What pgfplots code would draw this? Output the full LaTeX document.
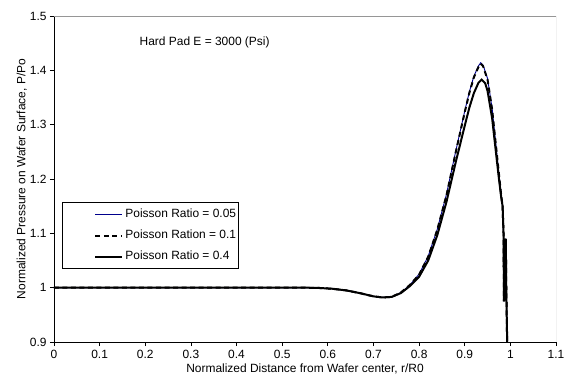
\documentclass[border=0pt]{standalone}
\usepackage{fontspec}
\setmainfont{Liberation Sans}
\usepackage{pgfplots}
\pgfplotsset{compat=1.18}
\definecolor{dblue}{RGB}{0,0,140}
\definecolor{frame}{RGB}{150,150,150}

\pgfplotstableread{
x y
0 1.0
0.1 1.0
0.2 1.0
0.3 1.0
0.4 1.0
0.5 1.0
0.55 1.0
0.58 0.9995
0.61 0.998
0.64 0.995
0.67 0.990
0.70 0.984
0.72 0.982
0.74 0.983
0.76 0.991
0.78 1.005
0.80 1.025
0.82 1.058
0.84 1.108
0.86 1.172
0.88 1.250
0.90 1.325
0.91 1.360
0.92 1.389
0.93 1.408
0.935 1.414
0.94 1.410
0.95 1.385
0.96 1.330
0.97 1.250
0.975 1.210
0.98 1.170
0.983 1.150
0.985 1.100
0.986 0.975
0.988 1.030
0.990 1.090
0.991 1.000
0.993 0.900
}\nua

\pgfplotstableread{
x y
0 1.0
0.1 1.0
0.2 1.0
0.3 1.0
0.4 1.0
0.5 1.0
0.55 1.0
0.58 0.9995
0.61 0.998
0.64 0.995
0.67 0.990
0.70 0.984
0.72 0.982
0.74 0.983
0.76 0.991
0.78 1.005
0.80 1.024
0.82 1.057
0.84 1.107
0.86 1.170
0.88 1.248
0.90 1.323
0.91 1.358
0.92 1.387
0.93 1.406
0.935 1.412
0.94 1.408
0.95 1.383
0.96 1.328
0.97 1.249
0.975 1.209
0.98 1.169
0.983 1.150
0.985 1.100
0.986 0.975
0.988 1.030
0.990 1.090
0.991 1.000
0.993 0.900
}\nub

\pgfplotstableread{
x y
0 1.0
0.1 1.0
0.2 1.0
0.3 1.0
0.4 1.0
0.5 1.0
0.55 1.0
0.58 0.9995
0.61 0.998
0.64 0.995
0.67 0.990
0.70 0.984
0.72 0.982
0.74 0.983
0.76 0.990
0.78 1.003
0.80 1.020
0.82 1.050
0.84 1.097
0.86 1.158
0.88 1.230
0.90 1.298
0.91 1.331
0.92 1.358
0.93 1.377
0.937 1.383
0.945 1.376
0.95 1.362
0.96 1.312
0.97 1.237
0.975 1.200
0.98 1.166
0.983 1.150
0.985 1.100
0.986 0.975
0.988 1.030
0.990 1.090
0.991 1.000
0.993 0.900
}\nuc

\begin{document}
\begin{tikzpicture}
\begin{axis}[
  name=ax,
  scale only axis,
  width=502bp, height=326bp,
  xmin=0, xmax=1.1, ymin=0.9, ymax=1.5,
  xtick={0,0.1,0.2,0.3,0.4,0.5,0.6,0.7,0.8,0.9,1,1.1},
  ytick={0.9,1,1.1,1.2,1.3,1.4,1.5},
  xticklabels={0,0.1,0.2,0.3,0.4,0.5,0.6,0.7,0.8,0.9,1,1.1},
  yticklabels={0.9,1,1.1,1.2,1.3,1.4,1.5},
  axis x line*=bottom, axis y line*=left,
  axis line style={black, line width=0.8bp, -},
  tick align=outside,
  major tick length=4bp,
  tick style={black, line width=0.8bp},
  tick label style={font=\fontsize{12}{14}\selectfont},
  xticklabel style={yshift=-1bp},
  label style={font=\fontsize{12}{14}\selectfont},
  xlabel={Normalized Distance from Wafer center, r/R0},
  ylabel={Normalized Pressure on Wafer Surface, P/Po},
  xlabel style={yshift=2bp},
  ylabel style={yshift=-4bp},
  legend cell align=left,
  legend style={
    at={(rel axis cs:0.016,0.429)}, anchor=north west,
    draw=black, line width=0.8bp, fill=white,
    font=\fontsize{12}{14}\selectfont,
    inner xsep=0bp, inner ysep=6bp,
    row sep=9bp,
    nodes={text height=9bp, text depth=3bp, inner ysep=0bp, inner xsep=2bp},
  },
  legend image code/.code={
    \path[draw=none] (0bp,0bp) -- (33bp,0bp);
    \draw[#1] (33bp,0bp) -- (60bp,0bp);
  },
]
\draw[frame, line width=0.8bp] (rel axis cs:0,1) -- (rel axis cs:1,1) -- (rel axis cs:1,0);
\addplot[dblue, line width=0.9bp] table {\nua};
\addlegendentry{Poisson Ratio = 0.05}
\addplot[black, line width=2bp, dash pattern=on 5bp off 3.5bp] table {\nub};
\addlegendentry{Poisson Ration = 0.1}
\addplot[black, line width=2bp] table {\nuc};
\addlegendentry{Poisson Ratio = 0.4}
\node[anchor=west, font=\fontsize{12}{14}\selectfont] at (axis cs:0.18,1.4506) {Hard Pad E = 3000 (Psi)};
\end{axis}
\pgfresetboundingbox
\path ([shift={(-54bp,-41bp)}]ax.south west) rectangle ([shift={(8bp,16bp)}]ax.north east);
\end{tikzpicture}
\end{document}
